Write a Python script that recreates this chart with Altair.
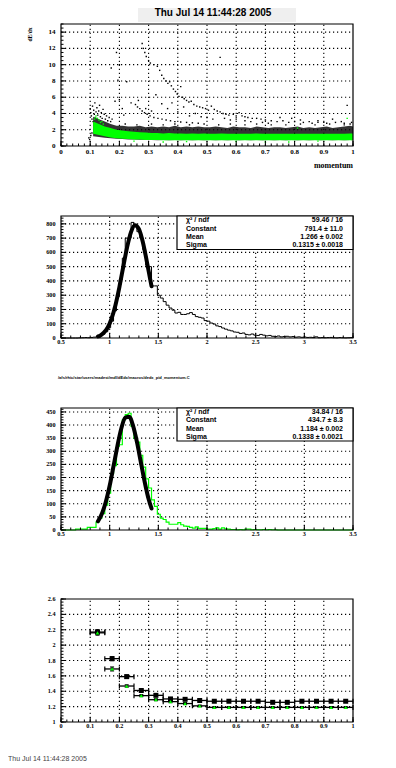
import altair as alt
import pandas as pd

# ====================== DATA ======================
# ---- Panel 1: dE/dx vs momentum (dense bands + sparse points) ----
band_x = [0.11, 0.13, 0.15, 0.17, 0.19, 0.21, 0.23, 0.25, 0.27, 0.29,
          0.31, 0.33, 0.35, 0.37, 0.39, 0.41, 0.43, 0.45, 0.47, 0.49,
          0.51, 0.53, 0.55, 0.57, 0.59, 0.61, 0.63, 0.65, 0.67, 0.69,
          0.71, 0.73, 0.75, 0.77, 0.79, 0.81, 0.83, 0.85, 0.87, 0.89,
          0.91, 0.93, 0.95, 0.97, 0.99, 1.0]
black_hi = [3.6, 3.3, 3.0, 2.7, 2.5, 2.5, 2.4, 2.4, 2.5, 2.3,
            2.4, 2.3, 2.4, 2.3, 2.5, 2.3, 2.4, 2.3, 2.4, 2.3,
            2.3, 2.4, 2.3, 2.2, 2.4, 2.3, 2.3, 2.2, 2.4, 2.3,
            2.2, 2.3, 2.3, 2.2, 2.3, 2.4, 2.2, 2.3, 2.2, 2.3,
            2.4, 2.2, 2.3, 2.4, 2.5, 2.4]
black_lo = [1.2, 1.1, 1.0, 0.95, 0.9, 0.85, 0.8, 0.8, 0.78, 0.76,
            0.75, 0.72, 0.75, 0.72, 0.75, 0.72, 0.75, 0.72, 0.75, 0.72,
            0.75, 0.72, 0.75, 0.72, 0.75, 0.72, 0.75, 0.72, 0.75, 0.72,
            0.75, 0.72, 0.75, 0.72, 0.75, 0.72, 0.75, 0.72, 0.75, 0.72,
            0.75, 0.72, 0.75, 0.72, 0.75, 0.72]
green_hi = [3.0, 2.7, 2.4, 2.2, 2.0, 1.9, 1.8, 1.75, 1.7, 1.65,
            1.6, 1.6, 1.55, 1.6, 1.55, 1.55, 1.5, 1.55, 1.5, 1.55,
            1.5, 1.5, 1.55, 1.5, 1.5, 1.5, 1.5, 1.5, 1.55, 1.5,
            1.5, 1.5, 1.5, 1.5, 1.5, 1.5, 1.5, 1.5, 1.5, 1.5,
            1.5, 1.5, 1.5, 1.5, 1.55, 1.55]
green_lo = [1.5, 1.35, 1.2, 1.05, 0.95, 0.9, 0.85, 0.8, 0.8, 0.75,
            0.75, 0.75, 0.7, 0.72, 0.7, 0.72, 0.7, 0.7, 0.72, 0.7,
            0.7, 0.72, 0.7, 0.7, 0.72, 0.7, 0.72, 0.7, 0.7, 0.72,
            0.7, 0.7, 0.72, 0.7, 0.72, 0.7, 0.7, 0.72, 0.7, 0.72,
            0.7, 0.72, 0.7, 0.72, 0.7, 0.72]

black_pts = [
    (0.095, 1.0), (0.098, 0.8), (0.102, 1.3), (0.106, 1.6),
    (0.100, 4.6), (0.102, 4.1), (0.104, 3.7), (0.106, 3.3), (0.108, 4.9), (0.110, 3.0),
    (0.112, 4.4), (0.114, 3.9), (0.116, 5.3), (0.118, 3.5), (0.120, 4.2), (0.123, 4.7),
    (0.126, 3.8), (0.129, 4.3), (0.132, 5.0), (0.135, 3.6), (0.138, 4.1), (0.141, 3.4),
    (0.144, 4.5), (0.148, 3.9), (0.152, 3.3), (0.156, 3.7), (0.160, 3.1), (0.165, 3.5),
    (0.170, 3.0), (0.175, 3.3),
    (0.172, 9.6), (0.190, 11.5), (0.195, 8.1), (0.200, 10.0), (0.185, 5.5), (0.200, 5.7),
    (0.210, 4.6), (0.225, 7.9), (0.240, 5.3), (0.215, 3.8),
    (0.278, 12.6), (0.282, 12.0), (0.287, 11.5), (0.292, 11.0), (0.300, 10.5), (0.306, 10.2),
    (0.318, 10.0), (0.330, 9.8), (0.338, 9.3), (0.345, 8.7), (0.352, 8.3), (0.360, 8.0),
    (0.366, 7.7), (0.372, 7.9), (0.378, 7.4), (0.385, 7.0), (0.392, 6.7), (0.398, 6.4),
    (0.404, 6.1), (0.410, 7.3), (0.416, 6.0), (0.422, 5.8), (0.430, 5.6), (0.438, 5.4),
    (0.446, 5.5), (0.455, 5.1), (0.465, 4.9), (0.475, 4.8), (0.485, 4.7), (0.495, 4.6),
    (0.505, 4.4), (0.515, 4.9), (0.525, 4.5), (0.535, 4.3), (0.545, 4.2), (0.555, 4.0),
    (0.565, 3.9), (0.575, 3.8), (0.590, 3.9), (0.600, 3.7), (0.610, 4.1), (0.620, 3.7),
    (0.630, 3.6), (0.640, 3.5), (0.655, 3.4), (0.670, 3.4), (0.685, 3.3), (0.700, 3.2),
    (0.720, 3.1), (0.740, 3.0), (0.760, 3.1), (0.780, 2.9), (0.800, 3.0), (0.830, 2.9),
    (0.860, 2.8), (0.880, 2.9), (0.910, 2.8), (0.940, 2.9), (0.970, 2.8), (0.990, 2.7),
    (0.255, 5.1), (0.262, 4.8), (0.270, 4.6), (0.278, 4.3), (0.286, 4.1), (0.295, 3.9),
    (0.305, 3.7), (0.318, 3.5), (0.332, 3.4), (0.346, 3.3), (0.360, 3.2), (0.375, 3.1),
    (0.390, 3.0), (0.410, 2.95), (0.430, 2.9), (0.450, 2.85), (0.470, 2.8),
    (0.265, 5.6), (0.290, 4.6), (0.310, 4.3), (0.325, 6.3), (0.345, 5.2), (0.365, 4.6),
    (0.380, 5.3), (0.400, 4.2), (0.420, 4.8), (0.440, 3.7), (0.460, 4.0), (0.480, 3.6),
    (0.500, 3.5), (0.520, 3.3), (0.545, 10.9), (0.560, 3.4), (0.580, 3.2), (0.600, 3.3),
    (0.630, 3.1), (0.650, 3.0), (0.690, 2.9), (0.710, 2.8), (0.750, 3.5), (0.790, 3.4),
    (0.820, 3.2), (0.850, 3.0), (0.880, 3.1), (0.900, 2.9), (0.930, 3.3), (0.960, 3.0),
    (0.980, 5.0), (0.995, 2.9),
    (0.22, 2.7), (0.26, 2.6), (0.31, 2.7), (0.35, 2.6), (0.39, 2.7), (0.44, 2.6),
    (0.49, 2.7), (0.54, 2.6), (0.58, 2.7), (0.63, 2.6), (0.67, 2.7), (0.72, 2.6),
    (0.77, 2.6), (0.82, 2.7), (0.87, 2.6), (0.92, 2.7), (0.97, 2.6),
]
sparse_black_x = [p[0] for p in black_pts]
sparse_black_y = [p[1] for p in black_pts]

green_pts = [(0.120, 3.7), (0.125, 3.4), (0.130, 3.2), (0.115, 3.3), (0.118, 3.5), (0.135, 2.9),
             (0.140, 3.0), (0.145, 2.7), (0.980, 3.4),
             (0.780, 0.5), (0.350, 0.5), (0.430, 0.55), (0.600, 0.55), (0.880, 0.6),
             (0.810, 2.2), (0.700, 0.45), (0.250, 0.6)]
sparse_green_x = [p[0] for p in green_pts]
sparse_green_y = [p[1] for p in green_pts]

# ---- Panel 2: all tracks dE/dx histogram + gaussian fit ----
hist_start, hist_width = 0.5, 0.03
hist_all = [0, 0, 0, 0, 0, 0,
            1, 2, 3, 2, 4, 6, 9,
            15, 26, 44, 72, 118, 190, 290, 410,
            560, 700, 700, 810, 795, 745, 700, 620, 510, 500, 365, 365,
            300, 280, 255, 230, 210, 195, 175, 180, 165, 165, 170, 178, 165, 150, 145, 140, 122, 118,
            105, 98, 85, 80, 70, 62, 55, 50, 42, 40, 32, 35, 25, 22, 28, 20, 18, 25, 20, 15,
            18, 12, 10, 14, 8, 10, 12, 8, 10, 6, 8, 5, 7, 4, 5, 3, 8, 2, 3, 2, 3, 4, 2, 1, 3, 2, 1, 2, 3]
fit_all_x = [0.88, 0.90, 0.94, 0.98, 1.02, 1.06, 1.10, 1.14, 1.18, 1.22, 1.26, 1.30, 1.34, 1.38, 1.42, 1.43]
fit_all_y = [11, 16, 37, 74, 138, 232, 357, 500, 639, 744, 791, 765, 675, 543, 398, 363]
stats_labels = ["χ² / ndf", "Constant", "Mean", "Sigma"]
stats_all_values = ["59.46 / 16", "791.4 ± 11.0", "1.266 ± 0.002", "0.1315 ± 0.0018"]

# ---- Panel 3: selected tracks histogram (green) + gaussian fit ----
hist_pid = [0, 0, 0, 0, 0,
            3, 3, 3, 3,
            10, 10, 10,
            30, 45, 62, 95, 140, 215, 245, 320, 325, 420, 440, 445, 395, 350, 335, 285, 240, 195,
            160, 115, 90, 60, 45, 40, 30, 22, 22, 22, 28, 20, 15, 14, 10, 7, 12, 6, 6, 6,
            3, 3, 5, 8, 3, 8, 4, 3, 2, 2, 1, 2, 1, 3, 3, 1, 2, 1, 1, 2,
            1, 2, 1, 1,
            0, 0, 0, 0, 0, 0, 0, 0, 0, 0, 0, 0, 0, 0, 0, 0, 0, 0, 0, 0, 0, 0, 0, 0, 0, 0]
fit_pid_x = [0.88, 0.92, 0.96, 1.00, 1.04, 1.08, 1.12, 1.16, 1.20, 1.24, 1.28, 1.32, 1.36, 1.40, 1.43]
fit_pid_y = [33, 62, 107, 169, 244, 321, 388, 428, 432, 398, 336, 259, 183, 118, 82]
stats_pid_values = ["34.84 / 16", "434.7 ± 8.3", "1.184 ± 0.002", "0.1338 ± 0.0021"]

# ---- Panel 4: profiles (mean dE/dx per momentum bin) ----
prof_x = [0.125, 0.175, 0.225, 0.275, 0.325, 0.375, 0.425, 0.475, 0.525,
          0.575, 0.625, 0.675, 0.725, 0.775, 0.825, 0.875, 0.925, 0.975]
prof_halfwidth = 0.025
prof_all = [2.17, 1.824, 1.59, 1.41, 1.347, 1.30, 1.295, 1.28, 1.27,
            1.27, 1.27, 1.27, 1.256, 1.256, 1.27, 1.27, 1.27, 1.27]
prof_all_err = [0.03, 0.025, 0.02, 0.01, 0.008, 0.006, 0.006, 0.005, 0.005,
                0.005, 0.005, 0.005, 0.005, 0.005, 0.005, 0.005, 0.005, 0.005]
prof_pid = [2.16, 1.69, 1.468, 1.343, 1.29, 1.265, 1.24, 1.21, 1.19,
            1.19, 1.19, 1.19, 1.19, 1.19, 1.19, 1.19, 1.19, 1.19]
prof_pid_err = [0.03, 0.025, 0.015, 0.012, 0.012, 0.012, 0.012, 0.01, 0.01,
                0.01, 0.01, 0.01, 0.01, 0.01, 0.01, 0.01, 0.01, 0.01]

title_text = "Thu Jul 14 11:44:28 2005"
macro_text = "/afs/rhic/star/users/madest/mdl/dEdx/macros/dedx_pid_momentum.C"

# ====================== LAYOUT ======================
W, H = 292, 698
R1, R2, R3, R4 = [122, 0], [314, 192], [506, 384], [698, 575]
GREEN = "#00ff00"
SERIF = "Liberation Serif"
SANS = "Liberation Sans"


def sc(dom, rng=None):
    if rng is None:
        return alt.Scale(domain=dom, nice=False, zero=False)
    return alt.Scale(domain=dom, range=rng, nice=False, zero=False)


def X(f, s):
    return alt.X(f, scale=s, axis=None)


def Y(f, s):
    return alt.Y(f, scale=s, axis=None)


def XD(v, s):
    return alt.XDatum(v, scale=s, axis=None)


def YD(v, s):
    return alt.YDatum(v, scale=s, axis=None)


def fmt(v):
    return "%g" % v


ONE = pd.DataFrame({"k": [0]})


def grid(xs, ys, xdom, ydom, xmaj, ymaj):
    xg = pd.DataFrame({"v": [v for v in xmaj if xdom[0] < v < xdom[1]]})
    yg = pd.DataFrame({"v": [v for v in ymaj if ydom[0] < v < ydom[1]]})
    st = dict(color="black", strokeDash=[1.2, 2.8], strokeWidth=1.1)
    return [
        alt.Chart(xg).mark_rule(**st).encode(x=X("v:Q", xs), y=YD(ydom[0], ys), y2=alt.Y2Datum(ydom[1])),
        alt.Chart(yg).mark_rule(**st).encode(y=Y("v:Q", ys), x=XD(xdom[0], xs), x2=alt.X2Datum(xdom[1])),
    ]


def frame(xs, ys, xdom, ydom, xmaj, xmin_, ymaj, ymin_, fs, xdy):
    out = [alt.Chart(ONE).mark_rect(fill="transparent", stroke="black", strokeWidth=1.2).encode(
        x=XD(xdom[0], xs), x2=alt.X2Datum(xdom[1]), y=YD(ydom[0], ys), y2=alt.Y2Datum(ydom[1]))]
    for vals, L in ((xmin_, 2.5), (xmaj, 5)):
        out.append(alt.Chart(pd.DataFrame({"v": vals})).mark_tick(
            orient="vertical", size=L, thickness=1, yOffset=-L / 2, color="black", opacity=1).encode(
            x=X("v:Q", xs), y=YD(ydom[0], ys)))
    for vals, L in ((ymin_, 2.5), (ymaj, 5)):
        out.append(alt.Chart(pd.DataFrame({"v": vals})).mark_tick(
            orient="horizontal", size=L, thickness=1, xOffset=L / 2, color="black", opacity=1).encode(
            y=Y("v:Q", ys), x=XD(xdom[0], xs)))
    lab = dict(font=SERIF, fontWeight="bold", fontSize=fs, color="black")
    out.append(alt.Chart(pd.DataFrame({"v": xmaj, "t": [fmt(v) for v in xmaj]})).mark_text(
        baseline="top", dy=xdy, **lab).encode(x=X("v:Q", xs), y=YD(ydom[0], ys), text="t:N"))
    out.append(alt.Chart(pd.DataFrame({"v": ymaj, "t": [fmt(v) for v in ymaj]})).mark_text(
        align="right", baseline="middle", dx=-5.5, **lab).encode(y=Y("v:Q", ys), x=XD(xdom[0], xs), text="t:N"))
    return out


def stats_box(top, bottom, labels, values):
    out = [alt.Chart(ONE).mark_rect(fill="white", stroke="black", strokeWidth=1.2).encode(
        x=alt.value(116), x2=alt.value(W), y=alt.value(top), y2=alt.value(bottom))]
    step = (bottom - top) / len(labels)
    st = dict(font=SANS, fontWeight="bold", fontSize=7, color="black", baseline="middle")
    for i, (lb, vl) in enumerate(zip(labels, values)):
        yy = top + step * (i + 0.5)
        out.append(alt.Chart(ONE).mark_text(align="left", **st).encode(
            x=alt.value(125), y=alt.value(yy), text=alt.value(lb)))
        out.append(alt.Chart(ONE).mark_text(align="right", **st).encode(
            x=alt.value(282), y=alt.value(yy), text=alt.value(vl)))
    return out


def steps(counts):
    edges = [round(hist_start + hist_width * i, 4) for i in range(len(counts) + 1)]
    return pd.DataFrame({"x": edges, "y": counts + [counts[-1]]})


# ---------------- Panel 1 ----------------
xd1, yd1 = [0, 1], [0, 15]
xs1, ys1 = sc(xd1), sc(yd1, R1)
x_maj01 = [round(0.1 * i, 2) for i in range(11)]
x_min01 = [round(0.02 * i, 2) for i in range(51)]
y_maj1 = [2 * i for i in range(8)]
y_min1 = [0.5 * i for i in range(31)]

df_band = pd.DataFrame({"x": band_x, "blo": black_lo, "bhi": black_hi, "glo": green_lo, "ghi": green_hi})
df_sb = pd.DataFrame({"x": sparse_black_x, "y": sparse_black_y})
df_sg = pd.DataFrame({"x": sparse_green_x, "y": sparse_green_y})

p1_layers = grid(xs1, ys1, xd1, yd1, x_maj01, y_maj1) + [
    alt.Chart(df_band).mark_area(color="black", opacity=0.8).encode(
        x=X("x:Q", xs1), y=Y("blo:Q", ys1), y2="bhi:Q"),
    alt.Chart(df_sb).mark_square(size=2, color="black", opacity=1).encode(
        x=X("x:Q", xs1), y=Y("y:Q", ys1)),
    alt.Chart(df_band).mark_area(color=GREEN, opacity=1).encode(
        x=X("x:Q", xs1), y=Y("glo:Q", ys1), y2="ghi:Q"),
    alt.Chart(df_sg).mark_square(size=2, color=GREEN, opacity=1).encode(
        x=X("x:Q", xs1), y=Y("y:Q", ys1)),
] + frame(xs1, ys1, xd1, yd1, x_maj01, x_min01, y_maj1, y_min1, 7, 2) + [
    alt.Chart(ONE).mark_rect(fill="#efefef").encode(
        x=alt.value(77), x2=alt.value(235), y=alt.value(-24), y2=alt.value(-2)),
    alt.Chart(ONE).mark_text(font=SANS, fontWeight="bold", fontSize=10, color="black",
                             baseline="middle").encode(
        x=alt.value(152), y=alt.value(-11), text=alt.value(title_text)),
    alt.Chart(ONE).mark_text(font=SERIF, fontWeight="bold", fontSize=5.5, color="black",
                             angle=270, align="right", baseline="middle").encode(
        x=alt.value(-31), y=alt.value(3.5), text=alt.value("dE/dx")),
    alt.Chart(ONE).mark_text(font=SERIF, fontWeight="bold", fontSize=8, color="black",
                             align="right", baseline="middle").encode(
        x=alt.value(W), y=alt.value(141.7), text=alt.value("momentum")),
]
p1 = alt.layer(*p1_layers)

# ---------------- Panel 2 ----------------
xd2, yd2 = [0.5, 3.5], [0, 855]
xs2, ys2 = sc(xd2), sc(yd2, R2)
x_maj2 = [0.5, 1, 1.5, 2, 2.5, 3, 3.5]
x_min2 = [round(0.5 + 0.1 * i, 2) for i in range(31)]
y_maj2 = [100 * i for i in range(9)]
y_min2 = [20 * i for i in range(43)]
df_fit2 = pd.DataFrame({"x": fit_all_x, "y": fit_all_y})

p2_layers = grid(xs2, ys2, xd2, yd2, x_maj2, y_maj2) + [
    alt.Chart(steps(hist_all)).mark_line(interpolate="step-after", color="black", strokeWidth=1).encode(
        x=X("x:Q", xs2), y=Y("y:Q", ys2)),
    alt.Chart(df_fit2).mark_line(interpolate="monotone", color="black", strokeWidth=4, strokeCap="round").encode(
        x=X("x:Q", xs2), y=Y("y:Q", ys2)),
] + frame(xs2, ys2, xd2, yd2, x_maj2, x_min2, y_maj2, y_min2, 6.2, 1) + stats_box(192, 225.5, stats_labels, stats_all_values)
p2 = alt.layer(*p2_layers)

# ---------------- Panel 3 ----------------
xd3, yd3 = [0.5, 3.5], [0, 465]
xs3, ys3 = sc(xd3), sc(yd3, R3)
y_maj3 = [50 * i for i in range(10)]
y_min3 = [10 * i for i in range(47)]
df_fit3 = pd.DataFrame({"x": fit_pid_x, "y": fit_pid_y})

p3_layers = grid(xs3, ys3, xd3, yd3, x_maj2, y_maj3) + [
    alt.Chart(steps(hist_pid)).mark_line(interpolate="step-after", color=GREEN, strokeWidth=1.2).encode(
        x=X("x:Q", xs3), y=Y("y:Q", ys3)),
    alt.Chart(df_fit3).mark_line(interpolate="monotone", color="black", strokeWidth=4, strokeCap="round").encode(
        x=X("x:Q", xs3), y=Y("y:Q", ys3)),
] + frame(xs3, ys3, xd3, yd3, x_maj2, x_min2, y_maj3, y_min3, 6.2, 0.5) + stats_box(384, 417, stats_labels, stats_pid_values) + [
    alt.Chart(ONE).mark_text(font=SANS, fontWeight="bold", fontSize=4, color="black",
                             align="left", baseline="middle").encode(
        x=alt.value(-3), y=alt.value(354), text=alt.value(macro_text)),
]
p3 = alt.layer(*p3_layers)

# ---------------- Panel 4 ----------------
xd4, yd4 = [0, 1], [1, 2.6]
xs4, ys4 = sc(xd4), sc(yd4, R4)
y_maj4 = [round(1 + 0.2 * i, 2) for i in range(9)]
y_min4 = [round(1 + 0.04 * i, 2) for i in range(41)]
df_p = pd.DataFrame({
    "x": prof_x,
    "lo": [v - prof_halfwidth for v in prof_x],
    "hi": [v + prof_halfwidth for v in prof_x],
    "b": prof_all,
    "blo": [a - e for a, e in zip(prof_all, prof_all_err)],
    "bhi": [a + e for a, e in zip(prof_all, prof_all_err)],
    "g": prof_pid,
    "glo": [a - e for a, e in zip(prof_pid, prof_pid_err)],
    "ghi": [a + e for a, e in zip(prof_pid, prof_pid_err)],
})

err_st = dict(color="black", strokeWidth=1.3)
p4_layers = grid(xs4, ys4, xd4, yd4, x_maj01, y_maj4)
for yc, ylo, yhi in (("b", "blo", "bhi"), ("g", "glo", "ghi")):
    p4_layers += [
        alt.Chart(df_p).mark_rule(**err_st).encode(x=X("lo:Q", xs4), x2="hi:Q", y=Y(yc + ":Q", ys4)),
        alt.Chart(df_p).mark_rule(**err_st).encode(x=X("x:Q", xs4), y=Y(ylo + ":Q", ys4), y2=yhi + ":Q"),
        alt.Chart(df_p).mark_tick(orient="vertical", size=5, thickness=1.2, color="black", opacity=1).encode(
            x=X("lo:Q", xs4), y=Y(yc + ":Q", ys4)),
        alt.Chart(df_p).mark_tick(orient="vertical", size=5, thickness=1.2, color="black", opacity=1).encode(
            x=X("hi:Q", xs4), y=Y(yc + ":Q", ys4)),
        alt.Chart(df_p).mark_tick(orient="horizontal", size=4, thickness=1.2, color="black", opacity=1).encode(
            x=X("x:Q", xs4), y=Y(ylo + ":Q", ys4)),
        alt.Chart(df_p).mark_tick(orient="horizontal", size=4, thickness=1.2, color="black", opacity=1).encode(
            x=X("x:Q", xs4), y=Y(yhi + ":Q", ys4)),
    ]
p4_layers += [
    alt.Chart(df_p).mark_square(size=25, color="black", opacity=1).encode(
        x=X("x:Q", xs4), y=Y("b:Q", ys4)),
    alt.Chart(df_p).mark_point(shape="triangle-up", filled=True, size=14, color=GREEN, opacity=1).encode(
        x=X("x:Q", xs4), y=Y("g:Q", ys4)),
] + frame(xs4, ys4, xd4, yd4, x_maj01, x_min01, y_maj4, y_min4, 6.2, 1) + [
    alt.Chart(ONE).mark_text(font=SANS, fontSize=7, color="#444444",
                             align="left", baseline="middle").encode(
        x=alt.value(-53), y=alt.value(735), text=alt.value(title_text)),
]
p4 = alt.layer(*p4_layers)

chart = alt.layer(p1, p2, p3, p4).resolve_scale(
    x="independent", y="independent"
).properties(
    width=W, height=H,
    autosize=alt.AutoSizeParams(type="none"),
    padding={"left": 53, "top": 16, "right": 35, "bottom": 46},
).configure_view(strokeWidth=0)

chart.save("out.html", embed_options={"renderer": "svg", "actions": False})
